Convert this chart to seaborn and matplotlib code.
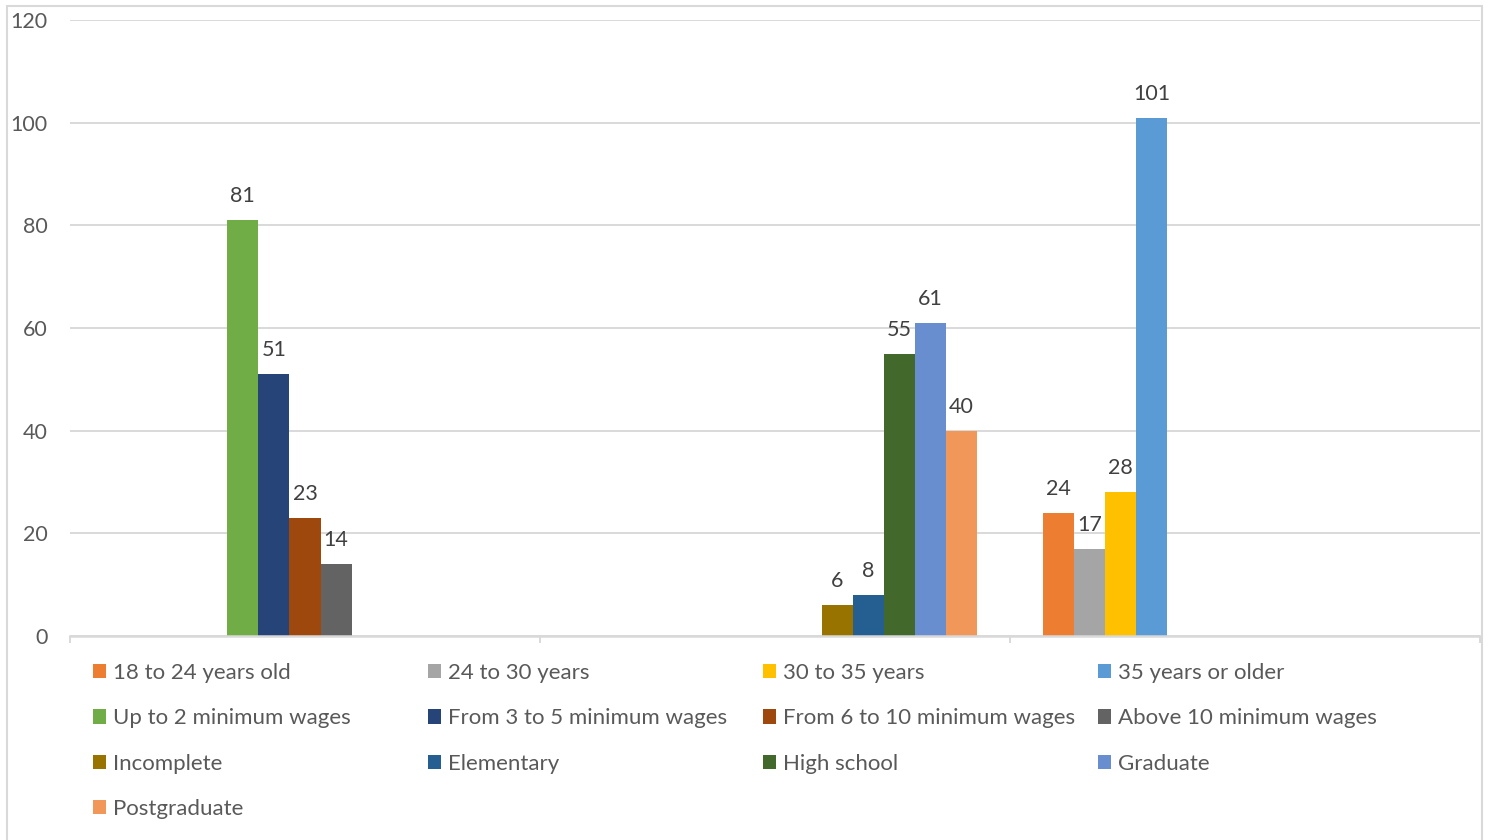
import matplotlib
matplotlib.use("Agg")
import matplotlib.pyplot as plt
from matplotlib.patches import Patch, Rectangle
import pandas as pd
import seaborn as sns

# Respondent profile: counts per group, three blocks (income, schooling, age)
groups = ["Income", "Schooling", "Age"]

series = [
    "18 to 24 years old", "24 to 30 years", "30 to 35 years", "35 years or older",
    "Up to 2 minimum wages", "From 3 to 5 minimum wages", "From 6 to 10 minimum wages",
    "Above 10 minimum wages",
    "Incomplete", "Elementary", "High school", "Graduate", "Postgraduate",
]

series_group = [
    "Age", "Age", "Age", "Age",
    "Income", "Income", "Income", "Income",
    "Schooling", "Schooling", "Schooling", "Schooling", "Schooling",
]

counts = [24, 17, 28, 101, 81, 51, 23, 14, 6, 8, 55, 61, 40]

colors = [
    "#ED7D31", "#A5A5A5", "#FFC000", "#5B9BD5",
    "#70AD47", "#264478", "#9E480E", "#636363",
    "#997300", "#255E91", "#43682B", "#698ED0", "#F1975A",
]

df = pd.DataFrame({"group": series_group, "series": series, "count": counts})

sns.set_theme(style="white")
plt.rcParams["font.family"] = ["Lato", "DejaVu Sans"]
text_color = "#595959"
grid_color = "#D9D9D9"
fs = 15.5

fig = plt.figure(figsize=(14.88, 8.40), dpi=100)
ax = fig.add_axes([70 / 1488, 1 - 636 / 840, (1480 - 70) / 1488, (636 - 20) / 840])

sns.barplot(
    data=df, x="group", y="count", hue="series",
    order=groups, hue_order=series,
    palette=dict(zip(series, colors)),
    width=0.86, saturation=1, errorbar=None, legend=False,
    linewidth=0, ax=ax,
)

for cont in ax.containers:
    ax.bar_label(cont, fmt="{:.0f}", padding=10, fontsize=fs, color="#404040")

ax.set_ylim(0, 120)
ax.set_yticks(range(0, 121, 20))
ax.set_xlim(-0.5, 2.5)
ax.set_xticks([-0.5, 0.5, 1.5, 2.5])
ax.set_xticklabels([])
ax.set_xlabel("")
ax.set_ylabel("")
ax.yaxis.grid(True, color=grid_color, linewidth=1.4)
ax.set_axisbelow(True)
for side in ["top", "right", "left"]:
    ax.spines[side].set_visible(False)
ax.spines["bottom"].set_color(grid_color)
ax.spines["bottom"].set_linewidth(1.8)
ax.tick_params(axis="x", direction="out", length=5, width=1.4, color=grid_color, bottom=True)
ax.tick_params(axis="y", length=0, pad=16, labelsize=fs, labelcolor=text_color)

# Legend drawn as four columns laid out row by row
col_x = [93, 428, 763, 1098]
for c in range(4):
    idx = list(range(c, len(series), 4))
    handles = [Patch(facecolor=colors[i], edgecolor="none") for i in idx]
    labels = [series[i] for i in idx]
    fig.legend(
        handles, labels, loc="upper left",
        bbox_to_anchor=(col_x[c] / 1488, 1 - 663 / 840),
        frameon=False, fontsize=16, labelcolor=text_color,
        handlelength=0.6, handleheight=0.6, handletextpad=0.3,
        labelspacing=1.14, borderpad=0, borderaxespad=0,
    )

# Outer chart border
fig.patches.append(Rectangle((7 / 1488, -0.01), (1482 - 7) / 1488, 1.01 - 6 / 840,
                             transform=fig.transFigure, fill=False,
                             edgecolor=grid_color, linewidth=1.5))

fig.savefig("out.png", dpi=100)
